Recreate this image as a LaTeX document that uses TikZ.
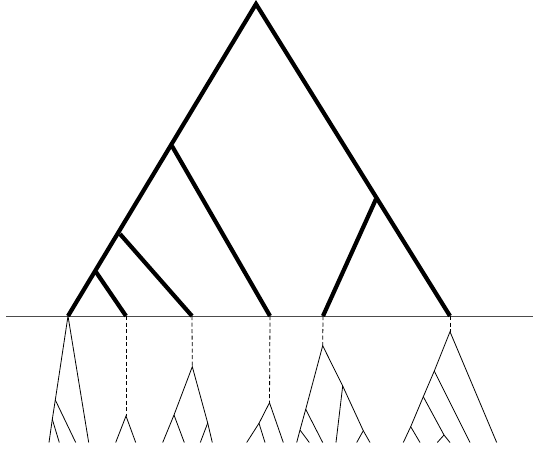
\documentclass[tikz,border=0pt]{standalone}
\begin{document}
\begin{tikzpicture}[x=1pt,y=-1pt,
  bigtree/.style={line width=4.2pt,line join=miter,line cap=butt},
  small/.style={line width=0.8pt},
  stem/.style={line width=0.8pt,dash pattern=on 4pt off 2.5pt},
  ground/.style={line width=0.9pt,black!70}]
\useasboundingbox (0,0) rectangle (550,464);
% ground line
\coordinate (H1) at (6,316);
\coordinate (H2) at (533,316);
\draw[ground] (H1) -- (H2);
% big tree
\coordinate (R) at (256,4);
\coordinate (A) at (172,146);
\coordinate (B) at (120,234);
\coordinate (C) at (96,272);
\coordinate (D) at (376,199);
\coordinate (L1) at (68,316);
\coordinate (L2) at (126,316);
\coordinate (L3) at (192,316);
\coordinate (L4) at (270,316);
\coordinate (L5) at (323,316);
\coordinate (L6) at (450,316);
\draw[bigtree] (L1) -- (R) -- (L6);
\draw[bigtree] (A) -- (L4);
\draw[bigtree] (B) -- (L3);
\draw[bigtree] (C) -- (L2);
\draw[bigtree] (D) -- (L5);
% subtree 1
\coordinate (a1) at (55.3,400);
\coordinate (a2) at (52.3,419.3);
\coordinate (a3) at (49,442.5);
\coordinate (a4) at (59.3,442.5);
\coordinate (a5) at (75.7,442.5);
\coordinate (a6) at (88.7,442.5);
\draw[small] (a3) -- (a2) -- (a1) -- (L1) -- (a6);
\draw[small] (a2) -- (a4);
\draw[small] (a1) -- (a5);
% subtree 2
\coordinate (b0) at (126,416);
\coordinate (b1) at (115.7,442.5);
\coordinate (b2) at (135.7,442.5);
\draw[stem] (L2) -- (b0);
\draw[small] (b1) -- (b0) -- (b2);
% subtree 3
\coordinate (c0) at (192.3,366.7);
\coordinate (c1) at (174,415);
\coordinate (c2) at (162.7,442.5);
\coordinate (c3) at (184.3,442.5);
\coordinate (c4) at (207.7,423);
\coordinate (c5) at (200.3,442.5);
\coordinate (c6) at (212.3,442.5);
\draw[stem] (L3) -- (c0);
\draw[small] (c2) -- (c1) -- (c0) -- (c4) -- (c6);
\draw[small] (c1) -- (c3);
\draw[small] (c4) -- (c5);
% subtree 4
\coordinate (d0) at (269.5,402.7);
\coordinate (d1) at (259,423.3);
\coordinate (d2) at (246.7,442.5);
\coordinate (d3) at (265,442.5);
\coordinate (d4) at (283.3,442.5);
\draw[stem] (L4) -- (d0);
\draw[small] (d2) -- (d1) -- (d0) -- (d4);
\draw[small] (d1) -- (d3);
% subtree 5
\coordinate (e0) at (322.7,345.7);
\coordinate (e1) at (305.7,409.3);
\coordinate (e2) at (300,430);
\coordinate (e3) at (296.7,442.5);
\coordinate (e4) at (309.3,442.5);
\coordinate (e5) at (322.7,442.5);
\coordinate (e6) at (342.7,386);
\coordinate (e7) at (336,442.5);
\coordinate (e8) at (363.3,430.7);
\coordinate (e9) at (356.7,442.5);
\coordinate (e10) at (370,442.5);
\draw[stem] (L5) -- (e0);
\draw[small] (e3) -- (e2) -- (e1) -- (e0) -- (e6) -- (e8) -- (e10);
\draw[small] (e2) -- (e4);
\draw[small] (e1) -- (e5);
\draw[small] (e6) -- (e7);
\draw[small] (e8) -- (e9);
% subtree 6
\coordinate (f0) at (450,331.7);
\coordinate (f1) at (434.3,371);
\coordinate (f2) at (423.3,396.7);
\coordinate (f3) at (410.7,426.7);
\coordinate (f4) at (403.3,442.5);
\coordinate (f5) at (420,442.5);
\coordinate (f6) at (444,435);
\coordinate (f7) at (437.3,442.5);
\coordinate (f8) at (450,442.5);
\coordinate (f9) at (470,442.5);
\coordinate (f10) at (496.7,442.5);
\draw[stem] (L6) -- (f0);
\draw[small] (f4) -- (f3) -- (f2) -- (f1) -- (f0) -- (f10);
\draw[small] (f3) -- (f5);
\draw[small] (f2) -- (f6) -- (f8);
\draw[small] (f6) -- (f7);
\draw[small] (f1) -- (f9);
\end{tikzpicture}
\end{document}
